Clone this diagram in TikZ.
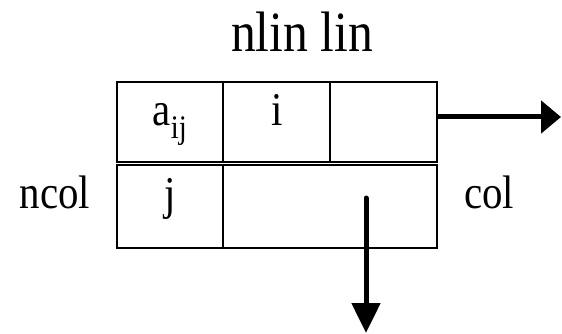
\documentclass[tikz,border=0pt]{standalone}
\usepackage{fontspec}
\setmainfont{Liberation Serif}[FakeStretch=0.87]
\usetikzlibrary{arrows.meta}
\begin{document}
\begin{tikzpicture}[x=1pt,y=-1pt,
  cell/.style={draw,line width=2.5pt,inner sep=0pt},
  celltext/.style={anchor=base,inner sep=0pt,font=\fontsize{47}{50}\selectfont},
  sidetext/.style={anchor=base,inner sep=0pt,font=\fontsize{47}{50}\selectfont},
  titletext/.style={anchor=base,inner sep=0pt,font=\fontsize{57}{60}\selectfont},
  link/.style={line width=5pt}]
\useasboundingbox (0,0) rectangle (562,334);
% upper row of the record
\node[cell,minimum width=106pt,minimum height=80pt] (c11) at (170,122) {};
\node[cell,minimum width=107pt,minimum height=80pt] (c12) at (276.5,122) {};
\node[cell,minimum width=107pt,minimum height=80pt] (c13) at (383.5,122) {};
% lower row of the record
\node[cell,minimum width=106pt,minimum height=83pt] (c21) at (170,206.5) {};
\node[cell,minimum width=214pt,minimum height=83pt] (c22) at (330,206.5) {};
% contents and labels
\node[celltext] (aij) at (170,125) {a\textsubscript{ij}};
\node[celltext] (ii) at (277,125) {i};
\node[celltext] (jj) at (170,209) {j};
\node[titletext] (title) at (302,52) {nlin lin};
\node[sidetext] (ncol) at (55,208) {ncol};
\node[sidetext] (col) at (489,208) {col};
% pointers
\coordinate (rtip) at (561,117);
\coordinate (dstart) at (366,198);
\coordinate (dtip) at (366,333);
\draw[link,-{Triangle[length=20pt,width=32pt]}] (c13.east |- rtip) -- (rtip);
\draw[link,line cap=round,-{Triangle[length=30pt,width=28pt]}] (dstart) -- (dtip);
\end{tikzpicture}
\end{document}
